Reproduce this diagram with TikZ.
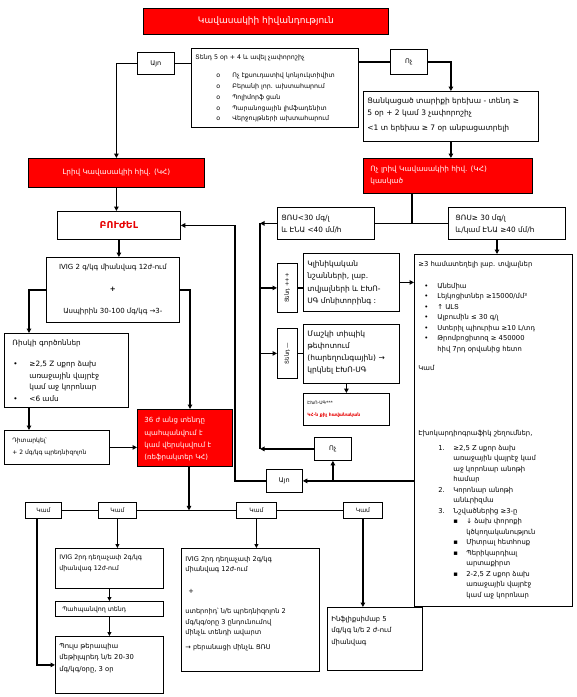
\documentclass[tikz,border=0pt]{standalone}
\usepackage{fontspec}
\setmainfont{DejaVu Sans}
\usetikzlibrary{arrows.meta}
\definecolor{kred}{RGB}{255,0,0}
\definecolor{ktxt}{RGB}{230,0,0}
\newcommand{\tb}[4]{\parbox[c][#2pt][t]{#1pt}{\raggedright\rule{0pt}{#3pt}#4}}
\newcommand{\tbc}[4]{\parbox[c][#2pt][t]{#1pt}{\centering\rule{0pt}{#3pt}#4}}
\newcommand{\fs}[2]{\fontsize{#1}{#2}\selectfont}
\begin{document}
\begin{tikzpicture}[x=1pt,y=-1pt,
  bx/.style={draw=black, line width=0.8pt, anchor=north west, inner xsep=4pt, inner ysep=0pt},
  cbx/.style={draw=black, line width=0.8pt, anchor=north west, inner sep=0pt, align=center},
  rbx/.style={fill=kred, text=white},
  ln/.style={line width=1.6pt},
  tn/.style={line width=0.9pt},
  arr/.style={ln, -{Triangle[length=4.5pt,width=4.5pt]}},
  tarr/.style={tn, -{Triangle[length=4pt,width=4pt]}},
]
\useasboundingbox (0,0) rectangle (577,697);
% guides
\coordinate (gx29) at (29,0);
\coordinate (gx37) at (37,0);
\coordinate (gx189) at (189,0);
\coordinate (gx190) at (190,0);
\coordinate (gx235) at (235,0);
\coordinate (gx260) at (260,0);
\coordinate (gx412) at (412,0);
\coordinate (gx497) at (497,0);
% top
\node[cbx, rbx, minimum width=245pt, minimum height=26pt, font=\fs{9}{11}] (title) at (143,8) {Կավասակիի հիվանդություն};
\node[cbx, minimum width=37pt, minimum height=22pt, font=\fs{6.5}{8}] (aio1) at (137,52) {Այո};
\node[bx, font=\fs{6.3}{10.8}] (crit) at (191,48) {\tb{159}{79}{11.5}{%
Տենդ 5 օր + 4 և ավել չափորոշիչ\\[7pt]
\hspace*{21pt}\makebox[16pt][l]{o}Ոչ էքսուդատիվ կոնյուկտիվիտ\\
\hspace*{21pt}\makebox[16pt][l]{o}Բերանի լոր. ախտահարում\\
\hspace*{21pt}\makebox[16pt][l]{o}Պոլիմորֆ ցան\\
\hspace*{21pt}\makebox[16pt][l]{o}Պարանոցային լիմֆադենիտ\\
\hspace*{21pt}\makebox[16pt][l]{o}Վերջույթների ախտահարում}};
\node[cbx, minimum width=37pt, minimum height=25pt, font=\fs{6.5}{8}] (no1) at (390,49) {Ոչ};
\node[bx, font=\fs{7.5}{12}] (rtop) at (363,91) {\tb{167}{50}{12}{%
Ցանկացած տարիքի երեխա - տենդ ≥\\
5 օր + 2 կամ 3 չափորոշիչ\\[3pt]
<1 տ երեխա ≥ 7 օր անբացատրելի}};
% red level
\node[cbx, rbx, minimum width=176pt, minimum height=29pt, font=\fs{7.3}{9}] (redL) at (28,158) {Լրիվ Կավասակիի հիվ. (ԿՀ)};
\node[bx, rbx, font=\fs{7.3}{12}] (redR) at (363,158) {\tb{161}{35}{13}{%
\hspace*{3pt}Ոչ լրիվ Կավասակիի հիվ. (ԿՀ)\\
\hspace*{3pt}կասկած}};
\node[cbx, minimum width=123pt, minimum height=28pt, text=ktxt, font=\bfseries\fs{9.5}{11}] (buj) at (57,211) {ԲՈՒԺԵԼ};
\node[bx, font=\fs{7.3}{12}] (zu1) at (277,207) {\tb{89}{32}{13}{%
ՑՌՍ<30 մգ/լ\\
և ԷՆԱ <40 մմ/h}};
\node[bx, font=\fs{7.3}{12}] (zu2) at (448,207) {\tb{109}{32}{13}{%
\hspace*{3pt}ՑՌՍ≥ 30 մգ/լ\\
\hspace*{3pt}և/կամ ԷՆԱ ≥40 մմ/h}};
% left column
\node[bx, font=\fs{7}{10}] (ivig) at (46,257) {\tbc{125}{65}{12}{%
IVIG 2 գ/կգ միանվագ 12ժ-ում\\[12pt]
{\bfseries +}\\[12pt]
Ասպիրին 30-100 մգ/կգ →3-}};
\node[bx, font=\fs{7.3}{11.7}] (risk) at (4,333) {\tb{116}{74}{12}{%
\hspace*{4pt}Ռիսկի գործոններ\\[9.3pt]
\hspace*{5pt}\makebox[16pt][l]{•}≥2,5 Z սքոր ձախ\\
\hspace*{21pt}առաջային վայրէջ\\
\hspace*{21pt}կամ աջ կորոնար\\
\hspace*{5pt}\makebox[16pt][l]{•}<6 ամս}};
\node[bx, font=\fs{6}{12}] (dit) at (4,430) {\tb{97}{34}{12.5}{%
\hspace*{4pt}Դիտարկել՝\\
\hspace*{4pt}+ 2 մգ/կգ պրեդնիզոլոն}};
\node[bx, rbx, font=\fs{7}{12.3}] (red36) at (137,409) {\tb{87}{57}{13.5}{%
\hspace*{3pt}36 ժ անց տենդը\\
\hspace*{3pt}պահպանվում է\\
\hspace*{3pt}կամ վերսկսվում է\\
\hspace*{3pt}(ռեֆրակտեր ԿՀ)}};
% middle column
\node[cbx, minimum width=20pt, minimum height=49pt, font=\fs{5.5}{6}] (ten1) at (277,263) {\rotatebox{90}{Տենդ +++}};
\node[cbx, minimum width=20pt, minimum height=50pt, font=\fs{5.5}{6}] (ten2) at (277,328) {\rotatebox{90}{Տենդ ---}};
\node[bx, font=\fs{7.5}{12.3}] (mid1) at (303,253) {\tb{88}{58}{13}{%
Կլինիկական\\
նշանների, լաբ.\\
տվյալների և ԷԽՈ-\\
ՍԳ մոնիտորինգ :}};
\node[bx, font=\fs{7.5}{12}] (mid2) at (303,324) {\tb{88}{59}{12}{%
Մաշկի տիպիկ\\
թեփոտում\\
(հարեղունգային) →\\
կրկնել ԷԽՈ-ՍԳ}};
\node[bx, font=\fs{4.5}{12}] (small) at (303,393) {\tb{78}{32}{11}{%
ԷԽՈ-ՍԳ***\\
{\color{ktxt}\bfseries ԿՀ-ն քիչ հավանական}}};
\node[cbx, minimum width=37pt, minimum height=23pt, font=\fs{6.5}{8}] (no2) at (314,437) {Ոչ};
\node[cbx, minimum width=36pt, minimum height=23pt, font=\fs{6.5}{8}] (aio2) at (266,469) {Այո};
% big right box
\node[bx, font=\fs{6.8}{10.5}] (big) at (414,254) {\tb{150}{352}{12}{%
≥3 համատեղելի լաբ. տվյալներ\\[11.5pt]
\hspace*{6pt}\makebox[13pt][l]{•}Անեմիա\\
\hspace*{6pt}\makebox[13pt][l]{•}Լեյկոցիտներ ≥15000/մմ³\\
\hspace*{6pt}\makebox[13pt][l]{•}↑ ԱԼՏ\\
\hspace*{6pt}\makebox[13pt][l]{•}Ալբումին ≤ 30 գ/լ\\
\hspace*{6pt}\makebox[13pt][l]{•}Ստերիլ պիուրիա ≥10 Լ/տդ\\
\hspace*{6pt}\makebox[13pt][l]{•}Թրոմբոցիտոզ ≥ 450000\\
\hspace*{19pt}հիվ 7րդ օրվանից հետո\\[8.5pt]
Կամ\\[54.5pt]
Էխոկարդիոգրաֆիկ շեղումներ,\\[4.5pt]
\hspace*{20pt}\makebox[15pt][l]{1.}≥2,5 Z սքոր ձախ\\
\hspace*{35pt}առաջային վայրէջ կամ\\
\hspace*{35pt}աջ կորոնար անոթի\\
\hspace*{35pt}համար\\
\hspace*{20pt}\makebox[15pt][l]{2.}Կորոնար անոթի\\
\hspace*{35pt}անևրիզմա\\
\hspace*{20pt}\makebox[15pt][l]{3.}Նշվածներից ≥3-ը\\
\hspace*{35pt}\makebox[13pt][l]{▪}↓ ձախ փորոքի\\
\hspace*{48pt}կծկողականություն\\
\hspace*{35pt}\makebox[13pt][l]{▪}Միտրալ հետհոսք\\
\hspace*{35pt}\makebox[13pt][l]{▪}Պերիկարդիալ\\
\hspace*{48pt}արտաքիրտ\\
\hspace*{35pt}\makebox[13pt][l]{▪}2-2,5 Z սքոր ձախ\\
\hspace*{48pt}առաջային վայրէջ\\
\hspace*{48pt}կամ աջ կորոնար}};
% bottom
\node[cbx, minimum width=36pt, minimum height=16pt, font=\fs{6}{8}] (kam1) at (25,502) {Կամ};
\node[cbx, minimum width=38pt, minimum height=16pt, font=\fs{6}{8}] (kam2) at (98,502) {Կամ};
\node[cbx, minimum width=40pt, minimum height=16pt, font=\fs{6}{8}] (kam3) at (236,502) {Կամ};
\node[cbx, minimum width=39pt, minimum height=16pt, font=\fs{6}{8}] (kam4) at (343,502) {Կամ};
\node[bx, font=\fs{6.3}{11}] (ivig2) at (55,548) {\tb{100}{40}{11}{%
IVIG 2րդ դեղաչափ 2գ/կգ\\
միանվագ 12ժ-ում}};
\node[bx, font=\fs{6.3}{11}] (pah) at (55,601) {\tb{100}{15}{10}{%
\hspace*{3pt}Պահպանվող տենդ}};
\node[bx, font=\fs{6.8}{11.5}] (pulse) at (55,636) {\tb{100}{57}{12}{%
Պուլս թերապիա\\
մեթիլպրեդ ն/ե 20-30\\
մգ/կգ/օրը, 3 օր}};
\node[bx, font=\fs{6.6}{10.5}] (ivig3) at (181,548) {\tb{130}{123}{13}{%
IVIG 2րդ դեղաչափ 2գ/կգ\\
միանվագ 12ժ-ում\\[11.5pt]
\hspace*{3pt}+\\[9.5pt]
ստերոիդ՝ ն/ե պրեդնիզոլոն 2\\
մգ/կգ/օրը 3 ընդունումով\\
մինչև տենդի ավարտ\\[4.5pt]
→ բերանացի մինչև ՑՌՍ}};
\node[bx, font=\fs{6.8}{11.5}] (infl) at (327,607) {\tb{87}{63}{14}{%
Ինֆլիքսիմաբ 5\\
մգ/կգ ն/ե 2 ժ-ում\\
միանվագ}};
% connectors top
\draw[ln] (crit.west |- aio1.east) -- (aio1.east);
\draw[arr] (aio1.west) -| (redL.north);
\draw[ln] (crit.east |- no1.west) -- (no1.west);
\draw[arr] (no1.east) -| (rtop.north);
\draw[arr] (rtop.south) -- (rtop.south |- redR.north);
\draw[ln] (gx412 |- redR.south) -- (gx412 |- zu1.east);
\draw[ln] (zu1.east) -- (zu2.west);
\draw[arr] (gx497 |- zu2.south) -- (gx497 |- big.north);
% middle connectors
\draw[arr] (zu1.west) -- (zu1.west -| gx260);
\draw[ln] (zu1.west -| gx260) -- (gx260 |- no2.west);
\draw[arr] (no2.west) -- (no2.west -| gx260);
\draw[arr] (gx260 |- ten1.west) -- (ten1.west);
\draw[arr] (gx260 |- ten2.west) -- (ten2.west);
\draw[ln] (ten1.east) -- (ten1.east -| mid1.west);
\draw[ln] (ten2.east) -- (ten2.east -| mid2.west);
\draw[arr] (mid1.east) -- (mid1.east -| big.west);
\draw[arr] (small.north |- mid2.south) -- (small.north);
\draw[arr] (big.west |- aio2.east) -- (aio2.east);
\draw[arr] (no2.south |- aio2.east) -- (no2.south);
\draw[arr] (aio2.west) -- (aio2.west -| gx235) |- (buj.east);
% left connectors
\draw[arr] (redL.south) -- (redL.south |- buj.north);
\draw[arr] (buj.south) -- (buj.south |- ivig.north);
\draw[arr] (ivig.west) -| (gx29 |- risk.north);
\draw[arr] (gx29 |- risk.south) -- (gx29 |- dit.north);
\draw[arr] (ivig.east) -| (gx190 |- red36.north);
\draw[arr] (dit.east) -- (dit.east -| red36.west);
\draw[arr] (gx189 |- red36.south) -- (gx189 |- kam2.east);
% bottom connectors
\draw[tn] (kam1.east) -- (kam2.west);
\draw[tn] (kam2.east) -- (kam3.west);
\draw[tn] (kam3.east) -- (kam4.west);
\draw[arr] (gx37 |- kam1.south) |- (pulse.west);
\draw[tarr] (kam2.south) -- (kam2.south |- ivig2.north);
\draw[tarr] (ivig2.south) -- (pah.north);
\draw[tarr] (pah.south) -- (pulse.north);
\draw[tarr] (kam3.south) -- (kam3.south |- ivig3.north);
\draw[arr] (kam4.south) -- (kam4.south |- infl.north);
\end{tikzpicture}
\end{document}
